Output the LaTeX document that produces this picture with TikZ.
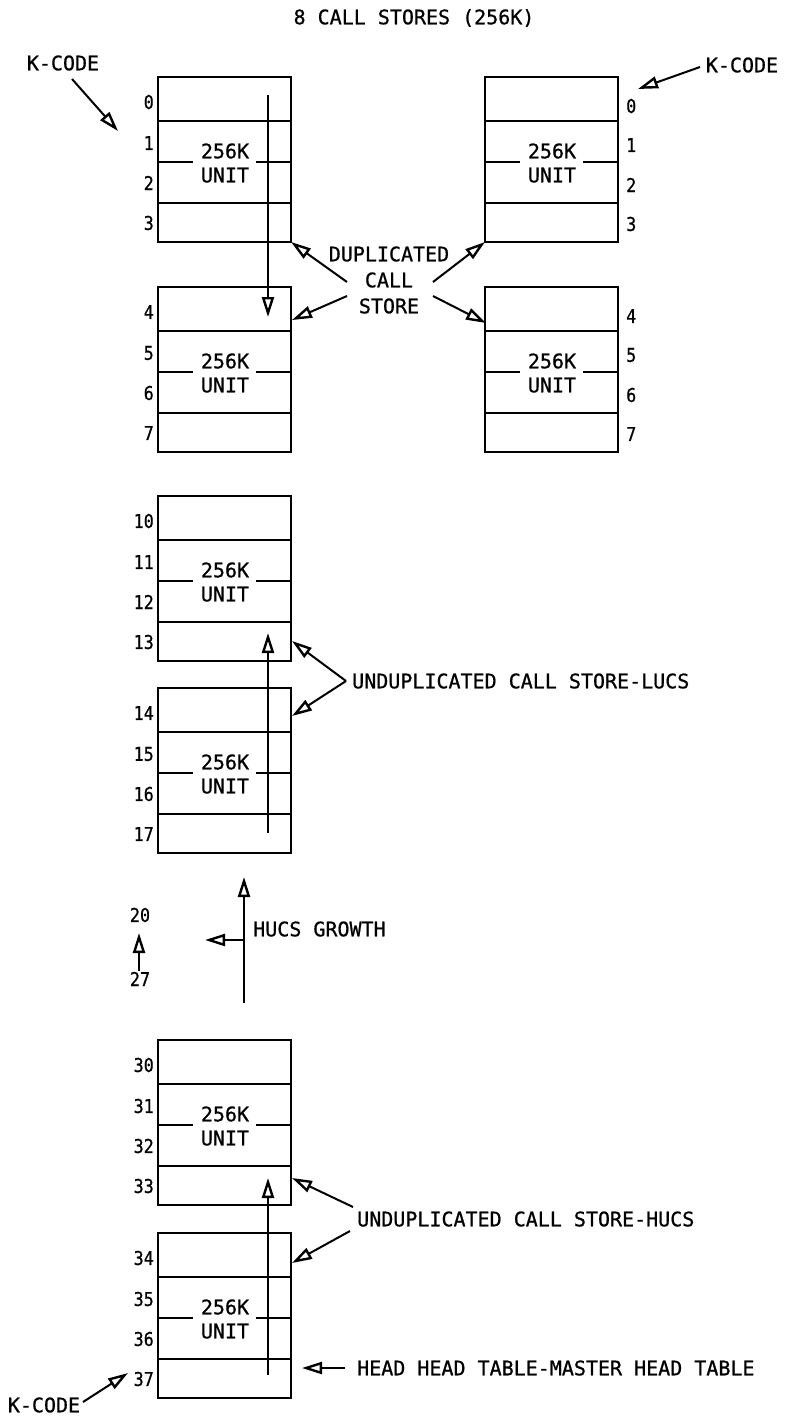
\documentclass[tikz,border=0pt]{standalone}
\usepackage{fontspec}
\usepackage{graphicx}
\setmainfont{DejaVu Sans Mono}[FakeBold=0.8,AutoFakeBold=0.8]
\usetikzlibrary{arrows.meta,calc}

\tikzset{
 lbl/.style={font=\fontsize{20}{26}\selectfont\bfseries, inner sep=0pt},
 num/.style={font=\fontsize{19}{22}\selectfont\bfseries, inner sep=0pt},
 boxst/.style={draw, line width=2.1pt, minimum width=133pt, minimum height=165pt, inner sep=0pt, outer sep=0pt, anchor=north west},
 divl/.style={line width=1.9pt},
 arr/.style={line width=2pt, -{Triangle[open, length=20pt, width=12pt, line width=2.4pt]}},
}

\newcommand\uboxcore[3]{%
 \node[boxst] (#1) at (#2,#3) {};
 \draw[divl] ($(#1.north west)+(0,44)$) -- ($(#1.north east)+(0,44)$);
 \draw[divl] ($(#1.north west)+(0,85)$) -- ++(35,0);
 \draw[divl] ($(#1.north east)+(-35,85)$) -- ++(35,0);
 \draw[divl] ($(#1.north west)+(0,126)$) -- ($(#1.north east)+(0,126)$);
 \node[lbl, align=center, font=\fontsize{20}{24}\selectfont\bfseries] (#1-t) at ($(#1.north west)+(67,86)$) {256K\\UNIT};
}
\newcommand\lnums[5]{%
 \node[num, anchor=east] (#1-0) at ($(#1.north west)+(-4,25)$) {\scalebox{0.88}[1]{#2}};
 \node[num, anchor=east] (#1-1) at ($(#1.north west)+(-4,66)$) {\scalebox{0.88}[1]{#3}};
 \node[num, anchor=east] (#1-2) at ($(#1.north west)+(-4,106)$) {\scalebox{0.88}[1]{#4}};
 \node[num, anchor=east] (#1-3) at ($(#1.north west)+(-4,146)$) {\scalebox{0.88}[1]{#5}};
}
\newcommand\rnums[5]{%
 \node[num, anchor=west] (#1-0) at ($(#1.north east)+(8,29)$) {\scalebox{0.88}[1]{#2}};
 \node[num, anchor=west] (#1-1) at ($(#1.north east)+(8,68)$) {\scalebox{0.88}[1]{#3}};
 \node[num, anchor=west] (#1-2) at ($(#1.north east)+(8,108)$) {\scalebox{0.88}[1]{#4}};
 \node[num, anchor=west] (#1-3) at ($(#1.north east)+(8,147)$) {\scalebox{0.88}[1]{#5}};
}

\begin{document}
\begin{tikzpicture}[x=1pt,y=-1pt]
\fill[white] (0,0) rectangle (786,1417);
\useasboundingbox (0,0) rectangle (786,1417);

% title
\node[lbl] (title) at (414,18) {8 CALL STORES (256K)};

% boxes
\uboxcore{b1}{158}{77}\lnums{b1}{0}{1}{2}{3}
\uboxcore{b2}{158}{287}\lnums{b2}{4}{5}{6}{7}
\uboxcore{r1}{485}{77}\rnums{r1}{0}{1}{2}{3}
\uboxcore{r2}{485}{287}\rnums{r2}{4}{5}{6}{7}
\uboxcore{b3}{158}{496}\lnums{b3}{10}{11}{12}{13}
\uboxcore{b4}{158}{688}\lnums{b4}{14}{15}{16}{17}
\uboxcore{b5}{158}{1040}\lnums{b5}{30}{31}{32}{33}
\uboxcore{b6}{158}{1233}\lnums{b6}{34}{35}{36}{37}

% K-CODE top left
\node[lbl] (k1) at (63,63) {K-CODE};
\coordinate (k1s) at (72,79);
\coordinate (k1t) at (118,131);
\draw[arr] (k1s) -- (k1t);

% K-CODE top right
\node[lbl] (k2) at (742,65) {K-CODE};
\coordinate (k2s) at (700,67);
\coordinate (k2t) at (638,89);
\draw[arr] (k2s) -- (k2t);

% vertical arrow b1 -> b2
\coordinate (v1s) at (268,95);
\coordinate (v1t) at (268,317);
\draw[arr] (v1s) -- (v1t);

% duplicated call store
\node[lbl, align=center] (dup) at (389,280) {DUPLICATED\\CALL\\STORE};
\coordinate (d1) at (347,282);
\coordinate (d2) at (347,296);
\coordinate (d3) at (433,282);
\coordinate (d4) at (433,296);
\coordinate (d2t) at (292,320);
\coordinate (d4t) at (486,323);
\draw[arr] (d1) -- (b1.south east);
\draw[arr] (d2) -- (d2t);
\draw[arr] (d3) -- (r1.south west);
\draw[arr] (d4) -- (d4t);

% LUCS
\node[lbl, anchor=west] (lucs) at (352,681) {UNDUPLICATED CALL STORE-LUCS};
\coordinate (lv) at (346,681);
\coordinate (l1t) at (292,641);
\coordinate (l2t) at (292,716);
\draw[arr] (lv) -- (l1t);
\draw[arr] (lv) -- (l2t);

% vertical arrow b4 -> b3
\coordinate (v2s) at (268,833);
\coordinate (v2t) at (268,633);
\draw[arr] (v2s) -- (v2t);

% 20 / 27
\node[num] (n20) at (140,915) {\scalebox{0.88}[1]{20}};
\node[num] (n27) at (140,979) {\scalebox{0.88}[1]{27}};
\coordinate (n27a) at (139,971);
\coordinate (n20a) at (139,933);
\draw[arr] (n27a) -- (n20a);

% HUCS growth
\coordinate (hs) at (244,1003);
\coordinate (ht) at (244,877);
\coordinate (hb) at (244,940);
\coordinate (hl) at (205,940);
\draw[arr] (hs) -- (ht);
\draw[arr] (hb) -- (hl);
\node[lbl, anchor=west] (hucs) at (253,929) {HUCS GROWTH};

% vertical arrow b6 -> b5
\coordinate (v3s) at (268,1375);
\coordinate (v3t) at (268,1178);
\draw[arr] (v3s) -- (v3t);

% HUCS store
\node[lbl, anchor=west] (uhucs) at (357,1219) {UNDUPLICATED CALL STORE-HUCS};
\coordinate (u1) at (353,1207);
\coordinate (u1t) at (292,1178);
\coordinate (u2) at (350,1231);
\coordinate (u2t) at (292,1263);
\draw[arr] (u1) -- (u1t);
\draw[arr] (u2) -- (u2t);

% head table
\node[lbl, anchor=west] (head) at (357,1368) {HEAD HEAD TABLE-MASTER HEAD TABLE};
\coordinate (hh) at (345,1368);
\coordinate (hht) at (302,1368);
\draw[arr] (hh) -- (hht);

% K-CODE bottom
\node[lbl] (k3) at (44,1405) {K-CODE};
\coordinate (k3s) at (83,1402);
\coordinate (k3t) at (128,1373);
\draw[arr] (k3s) -- (k3t);
\end{tikzpicture}
\end{document}
